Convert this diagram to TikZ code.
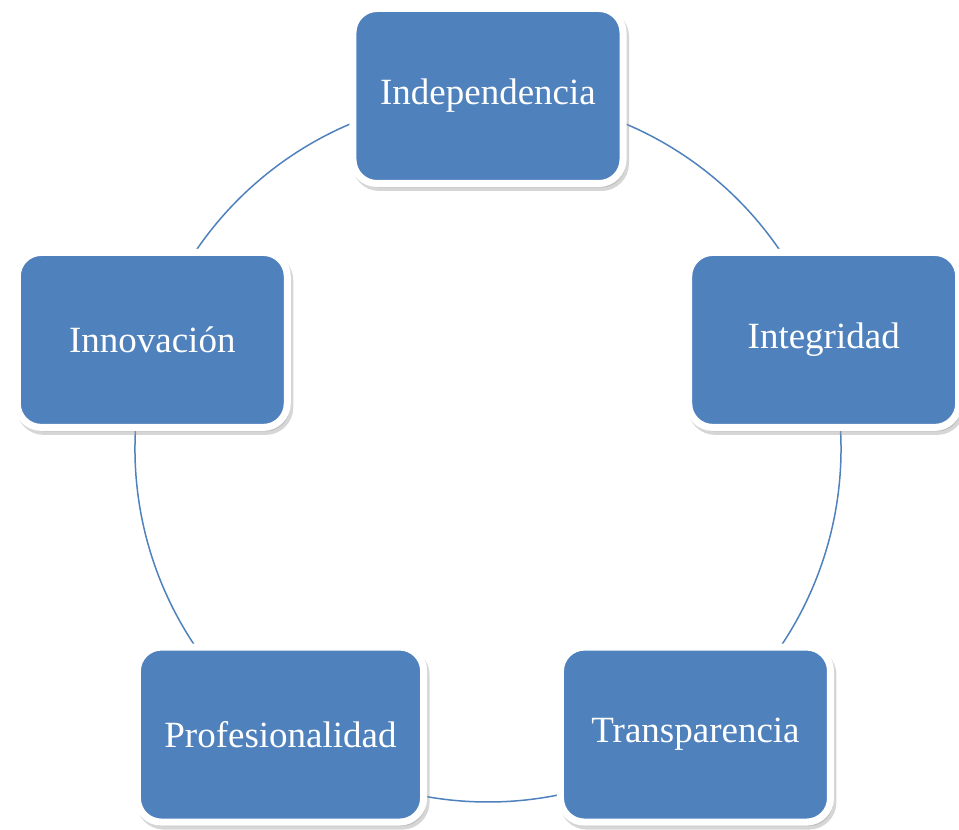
\documentclass[tikz,border=0pt]{standalone}
\usepackage{fontspec}
\setmainfont{Liberation Serif}
\usetikzlibrary{shadows,backgrounds}
\definecolor{cycleblue}{HTML}{4F81BD}

\begin{document}
\begin{tikzpicture}
      [ value/.style={rectangle, rounded corners=24pt, fill=cycleblue,
          draw=white, line width=7pt, minimum width=270pt, minimum height=175pt,
          inner xsep=27pt, text=white, font=\fontsize{37}{44}\selectfont,
          drop shadow={shadow xshift=2.5pt, shadow yshift=-4pt,
            fill=black!40, draw=black!40, opacity=.4}},
        link/.style={draw=cycleblue, line width=1.5pt}
      ]
      \useasboundingbox (-488pt,-381pt) rectangle (471pt,449pt);

      \node[value] (indep)   at (90:353pt)   {Independencia};
      \node[value] (integ)   at (18:353pt)   {Integridad};
      \node[value] (transp)  at (-54:353pt)  {Transparencia};
      \node[value] (profes)  at (-126:353pt) {Profesionalidad};
      \node[value] (innov)   at (162:353pt)  {Innovación};

      % the ring behind the boxes
      \begin{scope}[on background layer]
        \path[link] (indep.center)  arc[start angle=90,   end angle=18,   radius=353pt];
        \path[link] (integ.center)  arc[start angle=18,   end angle=-54,  radius=353pt];
        \path[link] (transp.center) arc[start angle=-54,  end angle=-126, radius=353pt];
        \path[link] (profes.center) arc[start angle=-126, end angle=-198, radius=353pt];
        \path[link] (innov.center)  arc[start angle=162,  end angle=90,   radius=353pt];
      \end{scope}
    \end{tikzpicture}
\end{document}
